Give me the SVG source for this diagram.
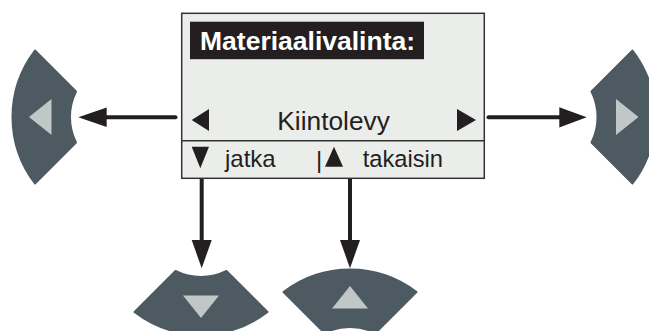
<svg xmlns="http://www.w3.org/2000/svg" width="649" height="331" viewBox="0 0 649 331">
<style>
.btn{fill:#4e5a61;stroke:#4e5a61;stroke-width:2;stroke-linejoin:round}
.tri{fill:#bfc8c6}
.txt{font-family:"Liberation Sans",Arial,sans-serif;fill:#231f20}
.ln{stroke:#231f20;stroke-width:4;stroke-linecap:round;fill:none}
.hd{fill:#231f20}
</style>
<defs>
<path id="seg" d="M -67,-66.5 L -26,-25.5 A 57 57 0 0 0 -26,25.5 L -67,66.5 A 109.5 109.5 0 0 1 -67,-66.5 Z"/>
<polygon id="segtri" points="-73,0 -50.5,-18 -50.5,18"/>
</defs>
<rect width="649" height="331" fill="#ffffff"/>
<g id="screen">
<rect x="181.7" y="13.3" width="302.6" height="165" fill="#ebedeb" stroke="#333333" stroke-width="1.5"/>
<line x1="181.7" y1="140.7" x2="484.3" y2="140.7" stroke="#333333" stroke-width="1.5"/>
<rect x="190" y="21.7" width="234" height="37.5" fill="#231f20"/>
<text x="200" y="50" class="txt" style="fill:#ffffff;font-weight:bold;font-size:26.5px">Materiaalivalinta:</text>
<polygon points="191.7,120 209,109 209,131" fill="#231f20"/>
<text x="277.3" y="130" class="txt" style="font-size:26.3px">Kiintolevy</text>
<polygon points="457,109 476,120 457,131" fill="#231f20"/>
<polygon points="191.7,146.7 209,146.7 200.3,168.3" fill="#231f20"/>
<text x="225" y="166.7" class="txt" style="font-size:24px">jatka</text>
<text x="316" y="167.5" class="txt" style="font-size:24px">|</text>
<polygon points="325,166.7 343,166.7 334,146.7" fill="#231f20"/>
<text x="362.7" y="166.7" class="txt" style="font-size:23.7px">takaisin</text>
</g>
<g id="btn-left" transform="translate(102,117)">
<use href="#seg" class="btn"/>
<use href="#segtri" class="tri"/>
</g>
<g id="btn-right" transform="translate(565.5,117) scale(-1,1)">
<use href="#seg" class="btn"/>
<use href="#segtri" class="tri"/>
</g>
<g id="btn-down" transform="translate(201,245) rotate(-90)">
<use href="#seg" class="btn"/>
<use href="#segtri" class="tri"/>
</g>
<g id="btn-up" transform="translate(350,359) rotate(90)">
<use href="#seg" class="btn"/>
<use href="#segtri" class="tri"/>
</g>
<g id="connectors">
<line class="ln" x1="175.5" y1="117.3" x2="104" y2="117.3"/>
<polygon class="hd" points="78.3,117.3 106.7,107.5 106.7,127.1"/>
<line class="ln" x1="488.5" y1="117.3" x2="562" y2="117.3"/>
<polygon class="hd" points="586.7,117.3 559.3,107.2 559.3,127.4"/>
<line class="ln" x1="201.7" y1="179" x2="201.7" y2="243" style="stroke-linecap:butt"/>
<polygon class="hd" points="201.7,268.3 191.7,240 211.7,240"/>
<line class="ln" x1="350" y1="179" x2="350" y2="243" style="stroke-linecap:butt"/>
<polygon class="hd" points="350,268.3 340,240 360,240"/>
</g>
</svg>
